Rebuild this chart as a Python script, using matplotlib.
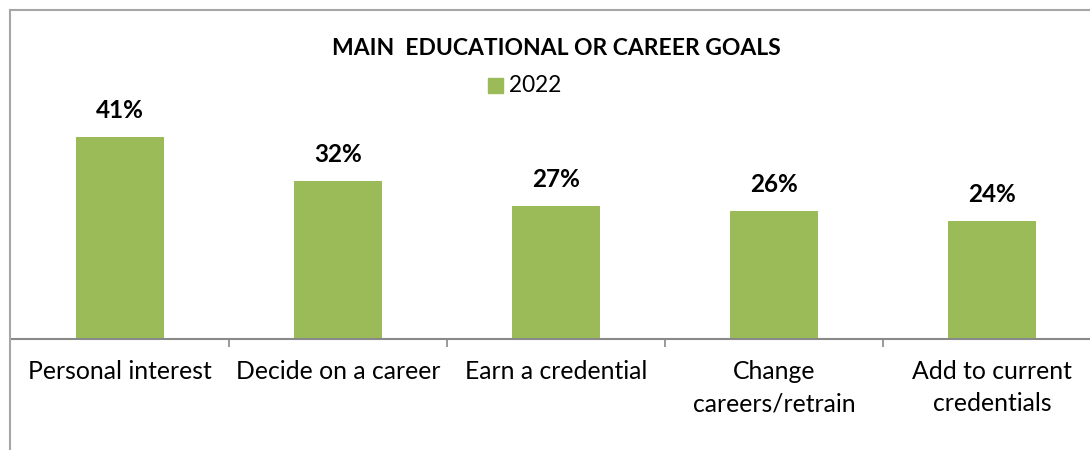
import matplotlib.pyplot as plt
from matplotlib.lines import Line2D

categories = ['Personal interest', 'Decide on a career', 'Earn a credential',
              'Change\ncareers/retrain', 'Add to current\ncredentials']
values = [41, 32, 27, 26, 24]
series_name = '2022'
title = 'MAIN  EDUCATIONAL OR CAREER GOALS'

green = '#9BBB59'
axis_gray = '#898989'

plt.rcParams['font.family'] = ['Lato', 'DejaVu Sans']

W, H = 1090, 450
fig = plt.figure(figsize=(W / 100, H / 100), dpi=100)

# plot area in pixel terms (from top-left), runs off the right edge like the source
left_px, base_px, top_px = 11, 339, 50
ax = fig.add_axes([left_px / W, (H - base_px) / H, 1090 / W, (base_px - top_px) / H])

x = list(range(len(categories)))
ax.bar(x, values, width=0.4, color=green, zorder=2)
ax.set_xlim(-0.5, len(categories) - 0.5)
ax.set_ylim(0, (base_px - top_px) / 4.93)

for xi, v in zip(x, values):
    ax.annotate(f'{v}%', (xi, v), xytext=(0, 13.5), textcoords='offset points',
                ha='center', va='baseline', fontsize=17.5, fontweight='bold')

for s in ['top', 'right', 'left']:
    ax.spines[s].set_visible(False)
ax.spines['bottom'].set_color(axis_gray)
ax.spines['bottom'].set_linewidth(1.5)
ax.set_yticks([])
ax.set_xticks(x)
ax.set_xticklabels(categories, fontsize=17.8, linespacing=1.5)
ax.tick_params(axis='x', which='major', length=0, pad=15)
ax.set_xticks([i + 0.5 for i in x[:-1]], minor=True)
ax.tick_params(axis='x', which='minor', length=6, width=1.2, color=axis_gray)

# title and legend
fig.text(556 / W, 1 - 48.5 / H, title, ha='center', va='center',
         fontsize=16.5, fontweight='bold')
fig.patches.append(plt.Rectangle((488 / W, 1 - 93 / H), 15 / W, 15 / H,
                                 transform=fig.transFigure, color=green))
fig.text(509 / W, 1 - 86 / H, series_name, ha='left', va='center', fontsize=16.3)

# chart border (top and left edges visible)
border = '#A6A6A6'
fig.add_artist(Line2D([10 / W, 1.01], [1 - 10 / H, 1 - 10 / H],
                      transform=fig.transFigure, color=border, lw=1.5))
fig.add_artist(Line2D([10 / W, 10 / W], [1 - 10 / H, -0.01],
                      transform=fig.transFigure, color=border, lw=1.5))

fig.savefig('out.png', dpi=100)
